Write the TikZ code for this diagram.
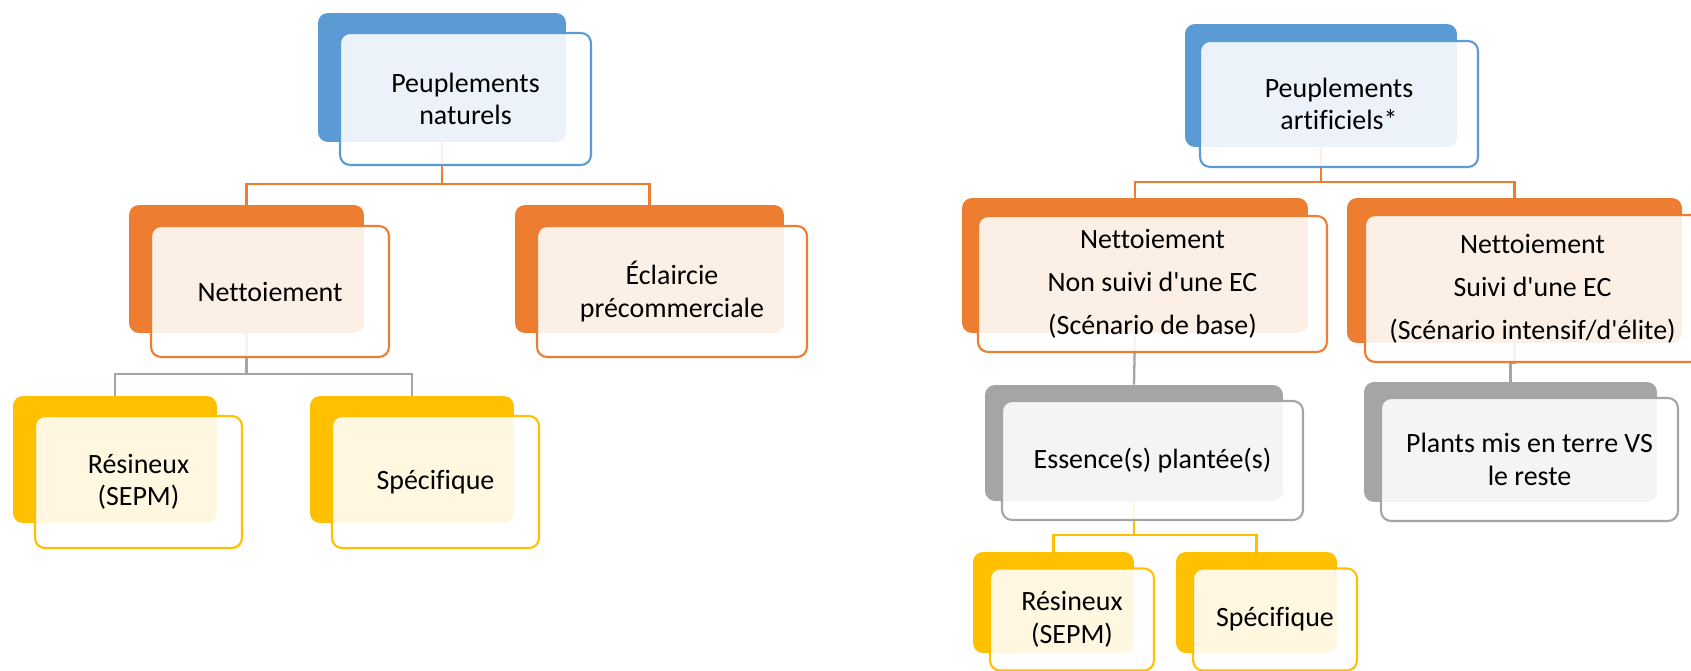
\documentclass[tikz,border=0pt]{standalone}
\usepackage{fontspec}
\setmainfont{Carlito}[Ligatures={NoCommon}]
\usetikzlibrary{positioning}

\definecolor{blueA}{HTML}{5B9BD5}
\definecolor{orangeA}{HTML}{ED7D31}
\definecolor{grayA}{HTML}{A5A5A5}
\definecolor{goldA}{HTML}{FFC000}

\begin{document}
\begin{tikzpicture}[x=0.02cm,y=-0.02cm,
			back/.style={rounded corners=0.2cm,inner sep=0pt},
			front/.style={draw,line width=1.2pt,rounded corners=0.2cm,inner sep=0pt,fill=white,fill opacity=0.88,text opacity=1,
				align=center,font=\fontsize{15.9}{18.5}\selectfont},
			link/.style={line width=1.3pt}]

			\useasboundingbox (0,0) rectangle (1691,671);
			\clip (0,0) rectangle (1691,671);

			\node [back,fill=blueA,minimum width=4.96cm,minimum height=2.58cm] at (442,77.5) (natB) {};
			\node [back,fill=orangeA,minimum width=4.70cm,minimum height=2.56cm] at (246.5,269) (net1B) {};
			\node [back,fill=orangeA,minimum width=5.38cm,minimum height=2.56cm] at (649.5,269) (eclB) {};
			\node [back,fill=goldA,minimum width=4.08cm,minimum height=2.54cm] at (115,459.5) (res1B) {};
			\node [back,fill=goldA,minimum width=4.08cm,minimum height=2.54cm] at (412,459.5) (spe1B) {};

			\node [back,fill=blueA,minimum width=5.44cm,minimum height=2.46cm] at (1321,85.5) (artB) {};
			\node [back,fill=orangeA,minimum width=6.92cm,minimum height=2.70cm] at (1135,265.5) (net2B) {};
			\node [back,fill=orangeA,minimum width=6.70cm,minimum height=2.90cm] at (1514.5,270.5) (net3B) {};
			\node [back,fill=grayA,minimum width=5.96cm,minimum height=2.32cm] at (1134,443) (essB) {};
			\node [back,fill=grayA,minimum width=5.86cm,minimum height=2.40cm] at (1510.5,442) (plaB) {};
			\node [back,fill=goldA,minimum width=3.22cm,minimum height=2.02cm] at (1053.5,602.5) (res2B) {};
			\node [back,fill=goldA,minimum width=3.22cm,minimum height=2.02cm] at (1256.5,602.5) (spe2B) {};

			\draw [link,orangeA] (natB.south) -- +(0,42) -| (net1B.north);
			\draw [link,orangeA] (natB.south) -- +(0,42) -| (eclB.north);
			\draw [link,grayA] (net1B.south) -- +(0,41) -| (res1B.north);
			\draw [link,grayA] (net1B.south) -- +(0,41) -| (spe1B.north);
			\draw [link,orangeA] (artB.south) -- +(0,35) -| (net2B.north);
			\draw [link,orangeA] (artB.south) -- +(0,35) -| (net3B.north);
			\draw [link,grayA] (net2B.south) -- (essB.north);
			\draw [link,grayA] (net3B.south) -- +(0,20) -| (plaB.north);
			\draw [link,goldA] (essB.south) -- +(0,34) -| (res2B.north);
			\draw [link,goldA] (essB.south) -- +(0,34) -| (spe2B.north);

			\node [front,draw=blueA,minimum width=5.02cm,minimum height=2.64cm] at (465.5,99) (nat) {Peuplements\\naturels};
			\node [front,draw=orangeA,minimum width=4.76cm,minimum height=2.62cm] at (270,291.5) (net1) {Nettoiement};
			\node [front,draw=orangeA,minimum width=5.40cm,minimum height=2.62cm] at (672,291.5) (ecl) {Éclaircie\\précommerciale};
			\node [front,draw=goldA,minimum width=4.14cm,minimum height=2.64cm] at (138.5,482) (res1) {Résineux\\(SEPM)};
			\node [front,draw=goldA,minimum width=4.14cm,minimum height=2.64cm] at (435.5,482) (spe1) {Spécifique};

			\node [front,draw=blueA,minimum width=5.56cm,minimum height=2.52cm] at (1339,104) (art) {Peuplements\\artificiels*};
			\node [front,draw=orangeA,minimum width=6.98cm,minimum height=2.72cm] at (1152.5,284) (net2) {Nettoiement\\[6pt]Non suivi d\textquotesingle une EC\\[6pt](Scénario de base)};
			\node [front,draw=orangeA,minimum width=6.70cm,minimum height=2.94cm] at (1532.5,288.5) (net3) {Nettoiement\\[6pt]Suivi d\textquotesingle une EC\\[6pt](Scénario intensif/d\textquotesingle élite)};
			\node [front,draw=grayA,minimum width=6.02cm,minimum height=2.38cm] at (1152.5,460.5) (ess) {Essence(s) plantée(s)};
			\node [front,draw=grayA,minimum width=5.94cm,minimum height=2.46cm] at (1529.5,459.5) (pla) {Plants mis en terre VS\\le reste};
			\node [front,draw=goldA,minimum width=3.28cm,minimum height=2.04cm] at (1072,619.5) (res2) {Résineux\\(SEPM)};
			\node [front,draw=goldA,minimum width=3.28cm,minimum height=2.04cm] at (1275,619.5) (spe2) {Spécifique};

		\end{tikzpicture}
\end{document}
